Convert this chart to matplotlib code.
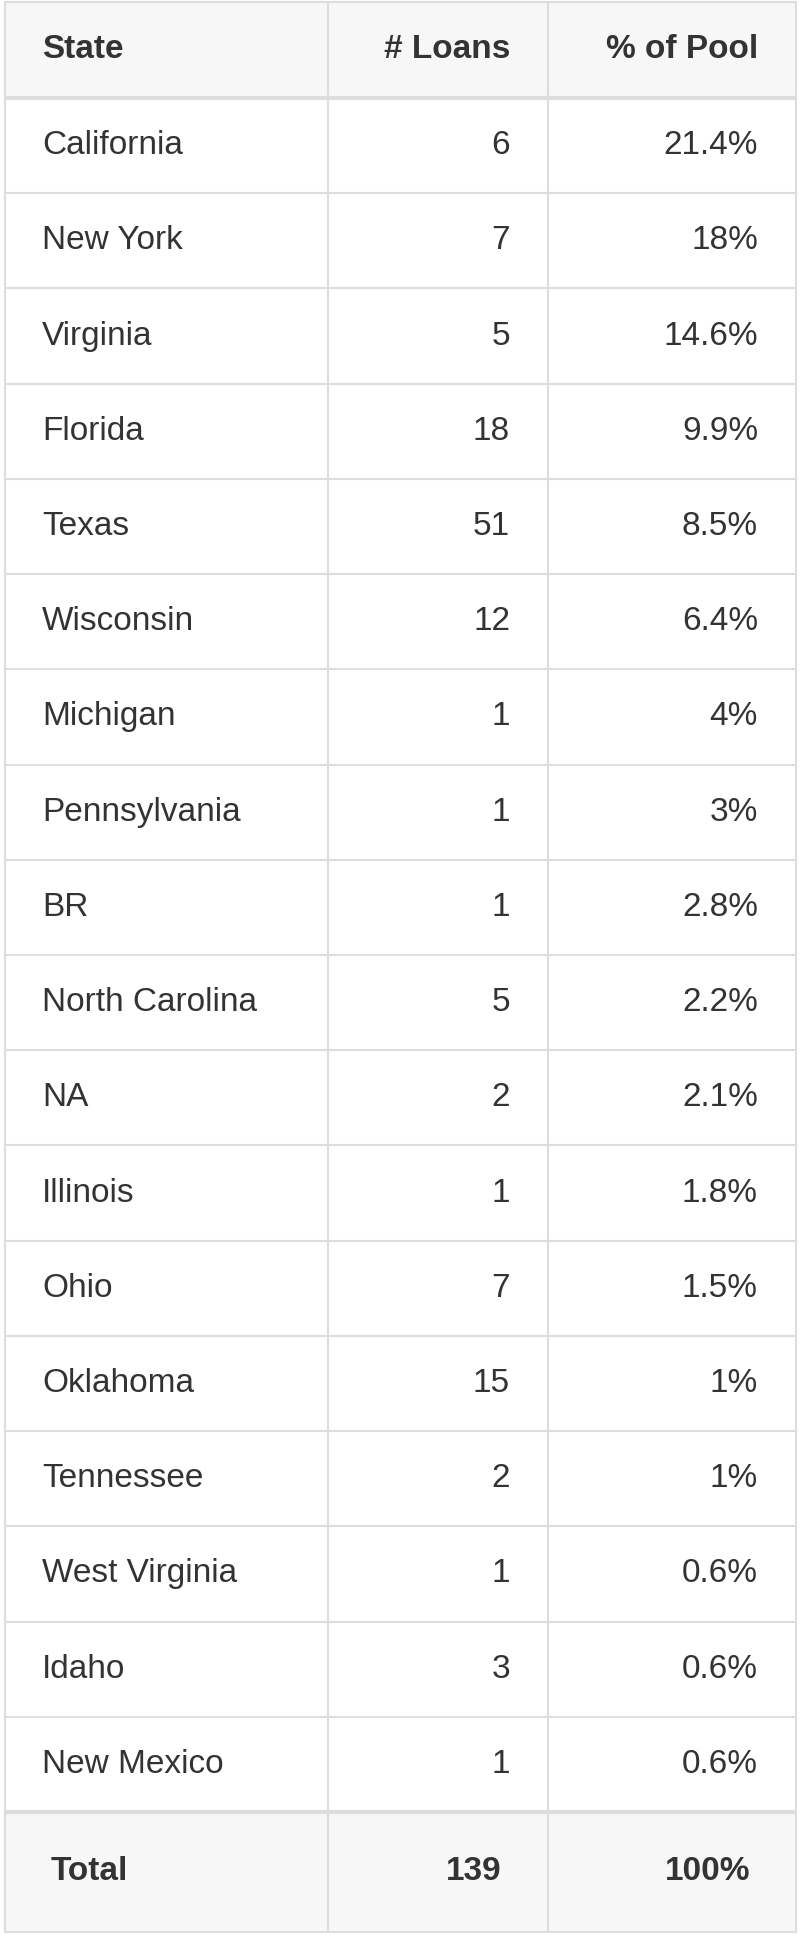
import matplotlib
matplotlib.use("Agg")
import matplotlib.pyplot as plt
from matplotlib.patches import Rectangle

headers = ["State", "# Loans", "% of Pool"]
states = ["California","New York","Virginia","Florida","Texas","Wisconsin","Michigan",
          "Pennsylvania","BR","North Carolina","NA","Illinois","Ohio","Oklahoma",
          "Tennessee","West Virginia","Idaho","New Mexico"]
loans = [6,7,5,18,51,12,1,1,1,5,2,1,7,15,2,1,3,1]
pool = ["21.4%","18%","14.6%","9.9%","8.5%","6.4%","4%","3%","2.8%","2.2%","2.1%",
        "1.8%","1.5%","1%","1%","0.6%","0.6%","0.6%"]
total = ["Total", "139", "100%"]

plt.rcParams['font.family'] = ['Liberation Sans', 'DejaVu Sans']
fig = plt.figure(figsize=(8, 19.36), dpi=100)
ax = fig.add_axes([0, 0, 1, 1])
ax.set_xlim(0, 800); ax.set_ylim(1936, 0); ax.axis('off')

xs = [5, 328, 548, 796]
top, head_b = 2, 98
row_h = (1812 - head_b) / len(states)
tot_t, tot_b = head_b + row_h * len(states), 1932
line = '#dddddd'; txt = '#333333'; fs = 24

ax.add_patch(Rectangle((xs[0], top), xs[-1]-xs[0], head_b-top, fc='#f7f7f7', ec='none'))
ax.add_patch(Rectangle((xs[0], tot_t), xs[-1]-xs[0], tot_b-tot_t, fc='#f7f7f7', ec='none'))

# horizontal lines
ys = [top] + [head_b + i*row_h for i in range(len(states)+1)] + [tot_b]
for i, y in enumerate(ys):
    lw = 3 if i in (1, len(ys)-2) else 1.5
    ax.plot([xs[0], xs[-1]], [y, y], color=line, lw=lw, solid_capstyle='butt')
for x in xs:
    ax.plot([x, x], [top, tot_b], color=line, lw=1.5)

def row(y, vals, bold=False, pad_l=37):
    w = 'bold' if bold else 'normal'
    ax.text(xs[0]+pad_l, y, vals[0], ha='left', va='center', fontsize=fs, color=txt, weight=w)
    ax.text(xs[2]-38, y, str(vals[1]), ha='right', va='center', fontsize=fs, color=txt, weight=w)
    ax.text(xs[3]-38, y, vals[2], ha='right', va='center', fontsize=fs, color=txt, weight=w)

row((top+head_b)/2, headers, bold=True)
for i, (s, l, p) in enumerate(zip(states, loans, pool)):
    row(head_b + (i+0.5)*row_h, [s, l, p])
ax.text(xs[0]+46, (tot_t+tot_b)/2, total[0], ha='left', va='center', fontsize=fs, color=txt, weight='bold')
ax.text(xs[2]-46, (tot_t+tot_b)/2, total[1], ha='right', va='center', fontsize=fs, color=txt, weight='bold')
ax.text(xs[3]-46, (tot_t+tot_b)/2, total[2], ha='right', va='center', fontsize=fs, color=txt, weight='bold')

fig.savefig("out.png", dpi=100)
